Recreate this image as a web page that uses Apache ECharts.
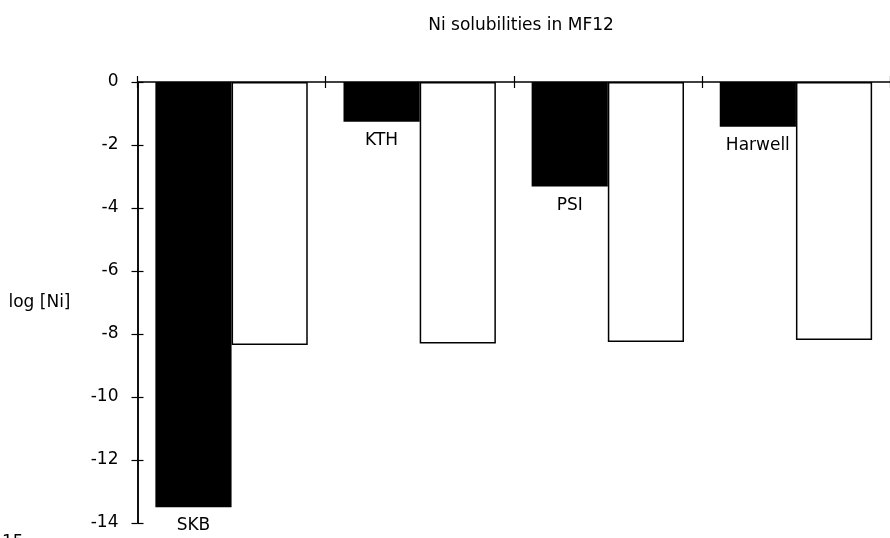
<!DOCTYPE html>
<html>
<head>
<meta charset="utf-8">
<script src="https://cdn.jsdelivr.net/npm/echarts@6/dist/echarts.min.js"></script>
<style>
html,body{margin:0;padding:0;background:#fff;}
#chart{width:890px;height:538px;}
</style>
</head>
<body>
<div id="chart"></div>
<script>
const categories = ['SKB', 'KTH', 'PSI', 'Harwell'];
const modelValues = [-13.5, -1.26, -3.32, -1.42];
const referenceValues = [-8.35, -8.3, -8.25, -8.19];
const yTicks = { min: -14, max: 0, interval: 2 };
const titleText = 'Ni solubilities in MF12';
const yName = 'log [Ni]';

const FONT = 'DejaVu Sans';
const chart = echarts.init(document.getElementById('chart'), null, { renderer: 'canvas' });

const gridLeft = 137.5, gridTop = 82, gridW = 758, gridH = 441;

chart.setOption({
  backgroundColor: '#fff',
  animation: false,
  title: {
    text: titleText,
    left: 516, top: 12, textAlign: 'center',
    textStyle: { fontFamily: FONT, fontSize: 17, fontWeight: 'normal', color: '#000' }
  },
  grid: [
    { left: gridLeft, top: gridTop, width: gridW, height: gridH, containLabel: false },
    { left: gridLeft, top: gridTop, width: gridW, height: gridH, containLabel: false }
  ],
  xAxis: [{
    type: 'category', data: categories, position: 'top', boundaryGap: true, gridIndex: 0,
    axisLine: { show: true, onZero: false, lineStyle: { color: '#000', width: 1.5 } },
    axisTick: { show: true, length: 6, inside: false, lineStyle: { color: '#000', width: 1.2 } },
    axisLabel: { show: false },
    splitLine: { show: false }
  }, {
    type: 'category', data: categories, position: 'top', boundaryGap: true, gridIndex: 0,
    axisLine: { show: false, onZero: false },
    axisTick: { show: true, length: 6, inside: true, lineStyle: { color: '#000', width: 1.2 } },
    axisLabel: { show: false },
    splitLine: { show: false }
  }, {
    type: 'category', data: categories, gridIndex: 1, position: 'bottom',
    axisLine: { show: false, onZero: false }, axisTick: { show: false }, axisLabel: { show: false }
  }],
  yAxis: [{
    type: 'value', min: yTicks.min, max: yTicks.max, interval: yTicks.interval, position: 'left', gridIndex: 0,
    name: yName, nameLocation: 'middle', nameRotate: 0, nameGap: 67,
    nameTextStyle: { fontFamily: FONT, fontSize: 17, color: '#000', padding: [6, 0, 0, 0] },
    axisLine: { show: true, onZero: false, lineStyle: { color: '#000', width: 1.5 } },
    axisTick: { show: true, length: 6, inside: false, lineStyle: { color: '#000', width: 1.2 } },
    axisLabel: { margin: 19, fontFamily: FONT, fontSize: 17, color: '#000' },
    splitLine: { show: false }
  }, {
    type: 'value', min: yTicks.min, max: yTicks.max, interval: yTicks.interval, position: 'left', gridIndex: 1,
    axisLine: { show: true, onZero: false, lineStyle: { color: '#000', width: 1.5 } },
    axisTick: { show: true, length: 6, inside: true, lineStyle: { color: '#000', width: 1.2 } },
    axisLabel: { show: false },
    splitLine: { show: false }
  }],
  series: [{
    type: 'bar', name: 'model', data: modelValues, xAxisIndex: 0, yAxisIndex: 0,
    barGap: '0%', barCategoryGap: '19%',
    itemStyle: { color: '#000' },
    label: {
      show: true, position: 'bottom', distance: 10, formatter: '{b}',
      fontFamily: FONT, fontSize: 17, color: '#000'
    }
  }, {
    type: 'bar', name: 'reference', data: referenceValues, xAxisIndex: 0, yAxisIndex: 0,
    barGap: '0%', barCategoryGap: '19%',
    itemStyle: { color: '#fff', borderColor: '#000', borderWidth: 1.5 }
  }],
  graphic: [{
    type: 'text', left: 2, top: 534,
    style: { text: '15', fontFamily: FONT, fontSize: 17, fill: '#000' }
  }]
});
</script>
</body>
</html>
